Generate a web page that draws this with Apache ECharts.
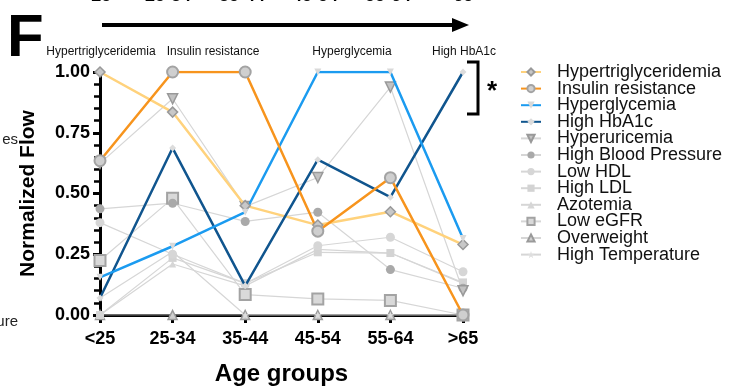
<!DOCTYPE html>
<html>
<head>
<meta charset="utf-8">
<script src="https://cdn.jsdelivr.net/npm/echarts@6/dist/echarts.min.js"></script>
<style>
  html, body { margin: 0; padding: 0; background: #fff; }
  #chart { width: 734px; height: 390px; }
</style>
</head>
<body>
<div id="chart"></div>
<script>
// Age groups on the x axis
const ageGroups = ['<25', '25-34', '35-44', '45-54', '55-64', '>65'];
const yTicks = [0, 0.25, 0.5, 0.75, 1];

// Normalized flow per condition, one value per age group
const hypertriglyceridemia = [1.00, 0.835, 0.45, 0.37, 0.425, 0.29];
const insulinResistance    = [0.635, 1.00, 1.00, 0.345, 0.565, 0.00];
const hyperglycemia        = [0.155, 0.283, 0.423, 1.00, 1.00, 0.315];
const highHbA1c            = [0.07, 0.687, 0.12, 0.639, 0.485, 1.00];
const hyperuricemia        = [0.624, 0.89, 0.446, 0.566, 0.938, 0.10];
const highBloodPressure    = [0.437, 0.46, 0.385, 0.423, 0.187, 0.11];
const lowHDL               = [0.38, 0.25, 0.13, 0.285, 0.32, 0.178];
const highLDL              = [0.00, 0.235, 0.13, 0.258, 0.255, 0.134];
const azotemia             = [0.00, 0.21, 0.12, 0.27, 0.255, 0.13];
const lowEGFR              = [0.224, 0.48, 0.084, 0.066, 0.06, 0.00];
const overweight           = [0.00, 0.00, 0.00, 0.00, 0.00, 0.00];
const highTemperature      = [0.07, 0.26, 0.00, 0.00, 0.00, 0.00];

// Peak annotations above the plot
const peakLabels = ['Hypertriglyceridemia', 'Insulin resistance', 'Hyperglycemia', 'High HbA1c'];

const FONT = 'Liberation Sans, Arial, Helvetica, sans-serif';
const STAR = 'path://M50,0 L61,35 L98,35 L68,57 L79,91 L50,70 L21,91 L32,57 L2,35 L39,35 Z';
const GRAY_LINE = '#d6d6d6';

function line(name, data, opts) {
  return Object.assign({
    name: name,
    type: 'line',
    data: data,
    showSymbol: true,
    symbol: 'circle',
    symbolSize: 8,
    lineStyle: { color: GRAY_LINE, width: 1.2 },
    itemStyle: { color: '#d0d0d0' },
    emphasis: { disabled: true },
    z: 2
  }, opts);
}

const series = [
  line('Overweight', overweight, {
    symbol: 'triangle', symbolSize: 9,
    itemStyle: { color: '#cfcfcf', borderColor: '#9a9a9a', borderWidth: 1.5 }
  }),
  line('High Temperature', highTemperature, {
    symbol: STAR, symbolSize: 7,
    itemStyle: { color: '#dedede' }
  }),
  line('Azotemia', azotemia, {
    symbol: 'triangle', symbolSize: 7,
    itemStyle: { color: '#d6d6d6' }
  }),
  line('High LDL', highLDL, {
    symbol: 'rect', symbolSize: 8,
    itemStyle: { color: '#d3d3d3' }
  }),
  line('Low HDL', lowHDL, {
    symbol: 'circle', symbolSize: 9,
    itemStyle: { color: '#d6d6d6' }
  }),
  line('Low eGFR', lowEGFR, {
    symbol: 'rect', symbolSize: 11,
    itemStyle: { color: '#d9d9d9', borderColor: '#a3a3a3', borderWidth: 2 }
  }),
  line('High Blood Pressure', highBloodPressure, {
    symbol: 'circle', symbolSize: 9,
    itemStyle: { color: '#a9a9a9' }
  }),
  line('Hyperuricemia', hyperuricemia, {
    symbol: 'triangle', symbolRotate: 180, symbolSize: 10,
    itemStyle: { color: '#c2c2c2', borderColor: '#999', borderWidth: 1.5 }
  }),
  line('Hypertriglyceridemia', hypertriglyceridemia, {
    symbol: 'diamond', symbolSize: 10,
    lineStyle: { color: '#FFD27C', width: 2.5 },
    itemStyle: { color: '#c8c8c8', borderColor: '#999', borderWidth: 1.5 },
    z: 4
  }),
  line('High HbA1c', highHbA1c, {
    symbol: 'diamond', symbolSize: 7,
    lineStyle: { color: '#10558E', width: 2.5 },
    itemStyle: { color: '#dcdcdc' },
    z: 4
  }),
  line('Hyperglycemia', hyperglycemia, {
    symbol: 'triangle', symbolRotate: 180, symbolSize: 7,
    lineStyle: { color: '#1B9BF0', width: 2.5 },
    itemStyle: { color: '#d9d9d9' },
    z: 4
  }),
  line('Insulin resistance', insulinResistance, {
    symbol: 'circle', symbolSize: 11,
    lineStyle: { color: '#F7941D', width: 2.5 },
    itemStyle: { color: '#cfcfcf', borderColor: '#a3a3a3', borderWidth: 2 },
    z: 4
  })
];

// Partly cropped age-group header from the panel above
const topAges = [
  { text: '<25', x: 96 }, { text: '25-34', x: 168 }, { text: '35-44', x: 242 },
  { text: '45-54', x: 315 }, { text: '55-64', x: 388 }, { text: '>65', x: 458 }
];

const peakX = [101, 213, 352, 464];

const graphics = [];
topAges.forEach(function (t) {
  graphics.push({
    type: 'text', x: t.x, y: 5,
    style: { text: t.text, font: 'bold 18px ' + FONT, fill: '#000', textAlign: 'center', textVerticalAlign: 'bottom' }
  });
});
// Arrow
graphics.push({ type: 'line', shape: { x1: 102, y1: 25, x2: 456, y2: 25 }, style: { stroke: '#000', lineWidth: 4 } });
graphics.push({ type: 'polygon', shape: { points: [[452, 18], [469, 25], [452, 32]] }, style: { fill: '#000' } });
// Panel letter
graphics.push({
  type: 'text', x: 7, y: 39,
  style: { text: 'F', font: 'bold 60px ' + FONT, fill: '#000', textAlign: 'left', textVerticalAlign: 'middle' }
});
// Peak annotations
peakLabels.forEach(function (s, i) {
  graphics.push({
    type: 'text', x: peakX[i], y: 52,
    style: { text: s, font: '12px ' + FONT, fill: '#111', textAlign: 'center', textVerticalAlign: 'middle' }
  });
});
// Significance bracket
graphics.push({
  type: 'polyline', shape: { points: [[467, 62], [478, 62], [478, 114], [467, 114]] },
  style: { stroke: '#000', lineWidth: 3, fill: null }
});
graphics.push({
  type: 'text', x: 492, y: 92,
  style: { text: '*', font: 'bold 26px ' + FONT, fill: '#000', textAlign: 'center', textVerticalAlign: 'middle' }
});
// Cropped labels from the neighbouring panel
graphics.push({
  type: 'text', x: 18, y: 140,
  style: { text: 'es', font: '15px ' + FONT, fill: '#222', textAlign: 'right', textVerticalAlign: 'middle' }
});
graphics.push({
  type: 'text', x: 18, y: 322,
  style: { text: 'ure', font: '15px ' + FONT, fill: '#222', textAlign: 'right', textVerticalAlign: 'middle' }
});

const chart = echarts.init(document.getElementById('chart'), null, { renderer: 'canvas' });
chart.setOption({
  animation: false,
  backgroundColor: '#fff',
  textStyle: { fontFamily: FONT },
  grid: { left: 100, right: 271, top: 72, bottom: 75, containLabel: false, outerBoundsMode: 'none' },
  legend: {
    orient: 'vertical',
    left: 515,
    top: 58,
    itemWidth: 20,
    itemHeight: 9,
    itemGap: -1.4,
    data: ['Hypertriglyceridemia', 'Insulin resistance', 'Hyperglycemia', 'High HbA1c',
           'Hyperuricemia', 'High Blood Pressure', 'Low HDL', 'High LDL', 'Azotemia',
           'Low eGFR', 'Overweight', 'High Temperature'],
    textStyle: { fontSize: 18, color: '#111', fontFamily: FONT, padding: [0, 0, 0, 11] },
    selectedMode: false
  },
  xAxis: {
    type: 'category',
    data: ageGroups,
    boundaryGap: false,
    name: 'Age groups',
    nameLocation: 'middle',
    nameGap: 47,
    nameTextStyle: { fontSize: 24, fontWeight: 'bold', color: '#000', fontFamily: FONT },
    axisLine: { lineStyle: { color: '#000', width: 3 } },
    axisTick: { show: true, alignWithLabel: true, length: 8, lineStyle: { color: '#000', width: 3 } },
    axisLabel: { fontSize: 18, fontWeight: 'bold', color: '#000', margin: 15, fontFamily: FONT },
    splitLine: { show: false }
  },
  yAxis: {
    type: 'value',
    min: yTicks[0],
    max: yTicks[yTicks.length - 1],
    interval: 0.25,
    name: 'Normalized Flow',
    nameLocation: 'middle',
    nameGap: 61,
    nameTextStyle: { fontSize: 21, fontWeight: 'bold', color: '#000', fontFamily: FONT },
    axisLine: { show: true, lineStyle: { color: '#000', width: 3 } },
    axisTick: { show: true, length: 7, lineStyle: { color: '#000', width: 3 } },
    minorTick: { show: true, splitNumber: 5, length: 6, lineStyle: { color: '#000', width: 2.5 } },
    axisLabel: {
      fontSize: 18, fontWeight: 'bold', color: '#000', margin: 10, fontFamily: FONT,
      formatter: function (v) { return v.toFixed(2); }
    },
    splitLine: { show: false }
  },
  series: series,
  graphic: graphics
});
</script>
</body>
</html>
